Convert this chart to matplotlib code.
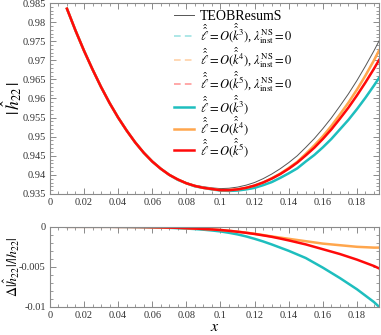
import numpy as np
import matplotlib
matplotlib.use("Agg")
import matplotlib.pyplot as plt
from matplotlib.ticker import MultipleLocator, FuncFormatter

plt.rcParams['font.family'] = ['Liberation Serif', 'DejaVu Serif']
plt.rcParams['mathtext.fontset'] = 'stix'

x = [0.01, 0.015, 0.02, 0.025, 0.03, 0.035, 0.04, 0.045, 0.05, 0.055, 0.06,
     0.065, 0.07, 0.075, 0.08, 0.085, 0.09, 0.095, 0.10, 0.105, 0.11, 0.115,
     0.12, 0.125, 0.13, 0.135, 0.14, 0.145, 0.15, 0.155, 0.16, 0.165, 0.17,
     0.175, 0.18, 0.185, 0.19, 0.193]

# top panel |h22|
teob = [0.9835, 0.9778, 0.9725, 0.9676, 0.9630, 0.9588, 0.9550, 0.9516, 0.9485,
        0.9458, 0.9436, 0.9417, 0.9401, 0.9389, 0.9380, 0.9373, 0.9369, 0.9366,
        0.9364, 0.9365, 0.9368, 0.9373, 0.9380, 0.9390, 0.9402, 0.9416, 0.9432,
        0.9450, 0.9472, 0.9495, 0.9521, 0.9549, 0.9580, 0.9612, 0.9647, 0.9685,
        0.9725, 0.9751]
h_k3 = [0.9835, 0.9778, 0.9725, 0.9676, 0.9630, 0.9588, 0.9550, 0.9516, 0.9485,
        0.9458, 0.9435, 0.9416, 0.9400, 0.9387, 0.9378, 0.9370, 0.9366, 0.9362,
        0.9359, 0.9358, 0.9359, 0.9362, 0.9366, 0.9373, 0.9381, 0.9392, 0.9404,
        0.9417, 0.9435, 0.9452, 0.9472, 0.9494, 0.9519, 0.9544, 0.9572, 0.9602,
        0.9634, 0.9654]
h_k4 = [0.9835, 0.9778, 0.9725, 0.9676, 0.9630, 0.9588, 0.9550, 0.9516, 0.9485,
        0.9458, 0.9435, 0.9416, 0.9400, 0.9388, 0.9378, 0.9371, 0.9366, 0.9363,
        0.9360, 0.9360, 0.9362, 0.9366, 0.9372, 0.9380, 0.9391, 0.9403, 0.9418,
        0.9434, 0.9455, 0.9477, 0.9501, 0.9528, 0.9558, 0.9589, 0.9623, 0.9660,
        0.9700, 0.9726]
h_k5 = [0.9835, 0.9778, 0.9725, 0.9676, 0.9630, 0.9588, 0.9550, 0.9516, 0.9485,
        0.9458, 0.9435, 0.9416, 0.9400, 0.9388, 0.9378, 0.9371, 0.9366, 0.9363,
        0.9360, 0.9360, 0.9362, 0.9366, 0.9372, 0.9380, 0.9390, 0.9402, 0.9416,
        0.9432, 0.9451, 0.9471, 0.9494, 0.9519, 0.9547, 0.9576, 0.9608, 0.9642,
        0.9678, 0.9701]

# bottom panel, relative difference
d_k3 = [0, 0, 0, 0, 0, 0, -0.00001, -0.00002, -0.00003, -0.00005, -0.00007,
        -0.0001, -0.00013, -0.00017, -0.00022, -0.00028, -0.00036, -0.00046,
        -0.00058, -0.00075, -0.00095, -0.0012, -0.0015, -0.00183, -0.0022,
        -0.0026, -0.0030, -0.00345, -0.0039, -0.0045, -0.0051, -0.00575, -0.0064,
        -0.0071, -0.0078, -0.0086, -0.0094, -0.0100]
d_k4 = [0, 0, 0, 0, 0, 0, -0.00001, -0.00001, -0.00002, -0.00003, -0.00005,
        -0.00007, -0.0001, -0.00013, -0.00017, -0.00022, -0.00027, -0.00033,
        -0.0004, -0.0005, -0.0006, -0.00073, -0.00087, -0.00103, -0.0012,
        -0.00135, -0.0015, -0.00165, -0.0018, -0.00195, -0.0021, -0.0022, -0.0023,
        -0.0024, -0.0025, -0.00255, -0.0026, -0.0026]
d_k5 = [0, 0, 0, 0, 0, 0, -0.00001, -0.00001, -0.00002, -0.00003, -0.00005,
        -0.00007, -0.0001, -0.00013, -0.00017, -0.00022, -0.00027, -0.00033,
        -0.0004, -0.0005, -0.00062, -0.00075, -0.0009, -0.00107, -0.00125,
        -0.00147, -0.0017, -0.00195, -0.0022, -0.0025, -0.0028, -0.0031, -0.0034,
        -0.00375, -0.0041, -0.0045, -0.0049, -0.0052]

cyan = '#1ebebe'
orange = '#ffa64d'
red = '#ff0a0a'
cyan_l = '#9fe3e3'
orange_l = '#ffd2a8'
red_l = '#ff9a9a'

lab3 = r'$\hat{\hat{\ell}}=O(\hat{\hat{k}}^{3})$'
lab4 = r'$\hat{\hat{\ell}}=O(\hat{\hat{k}}^{4})$'
lab5 = r'$\hat{\hat{\ell}}=O(\hat{\hat{k}}^{5})$'
lam = r', $\lambda_{\rm inst}^{\rm NS}=0$'


def fmt(v, pos):
    s = ('%.4f' % v).rstrip('0').rstrip('.')
    if s in ('-0', '0.'):
        s = '0'
    return s


def style(ax):
    for sp in ax.spines.values():
        sp.set_color('#8a8a8a')
        sp.set_linewidth(0.8)
    ax.tick_params(which='both', direction='in', top=True, right=True,
                   color='#8a8a8a', labelsize=7.5, labelcolor='#333333', pad=3)
    ax.tick_params(which='major', length=4, width=0.7)
    ax.tick_params(which='minor', length=2, width=0.6)
    ax.xaxis.set_major_locator(MultipleLocator(0.02))
    ax.xaxis.set_minor_locator(MultipleLocator(0.005))
    ax.xaxis.set_major_formatter(FuncFormatter(fmt))
    ax.yaxis.set_major_formatter(FuncFormatter(fmt))
    ax.set_xlim(0, 0.193)


fig = plt.figure(figsize=(3.81, 3.35), dpi=100)
ax1 = fig.add_axes([0.131, 0.421, 0.864, 0.570])
ax2 = fig.add_axes([0.131, 0.084, 0.864, 0.239])

ax1.plot(x, teob, color='#555555', lw=0.7, label='TEOBResumS')
ax1.plot(x, h_k3, color=cyan_l, lw=1.2, dashes=(4, 2.5), label=lab3 + lam)
ax1.plot(x, h_k4, color=orange_l, lw=1.2, dashes=(4, 2.5), label=lab4 + lam)
ax1.plot(x, h_k5, color=red_l, lw=1.2, dashes=(4, 2.5), label=lab5 + lam)
ax1.plot(x, h_k3, color=cyan, lw=1.8, label=lab3)
ax1.plot(x, h_k4, color=orange, lw=1.8, label=lab4)
ax1.plot(x, h_k5, color=red, lw=1.8, label=lab5)
ax1.set_ylim(0.935, 0.985)
ax1.yaxis.set_major_locator(MultipleLocator(0.005))
ax1.yaxis.set_minor_locator(MultipleLocator(0.001))
ax1.set_ylabel(r'$|\,\hat{h}_{22}\,|$', fontsize=12.5)
ax1.yaxis.set_label_coords(-0.079, 0.5)
style(ax1)
leg = ax1.legend(loc='upper left', bbox_to_anchor=(0.365, 0.985), frameon=False,
                 fontsize=9, handlelength=1.6, handletextpad=0.5,
                 labelspacing=-0.08, borderpad=0.3, borderaxespad=0)
leg.get_texts()[0].set_fontsize(10)

ax2.plot(x, d_k3, color=cyan, lw=1.8)
ax2.plot(x, d_k4, color=orange, lw=1.8)
ax2.plot(x, d_k5, color=red, lw=1.8)
ax2.set_ylim(-0.01, 0)
ax2.yaxis.set_major_locator(MultipleLocator(0.005))
ax2.yaxis.set_minor_locator(MultipleLocator(0.001))
ax2.set_ylabel(r'$\Delta|\hat{h}_{22}|/|h_{22}|$', fontsize=10)
ax2.yaxis.set_label_coords(-0.084, 0.5)
ax2.set_xlabel(r'$x$', fontsize=11.5)
ax2.xaxis.set_label_coords(0.5, -0.155)
style(ax2)

fig.savefig('out.png', dpi=100)
